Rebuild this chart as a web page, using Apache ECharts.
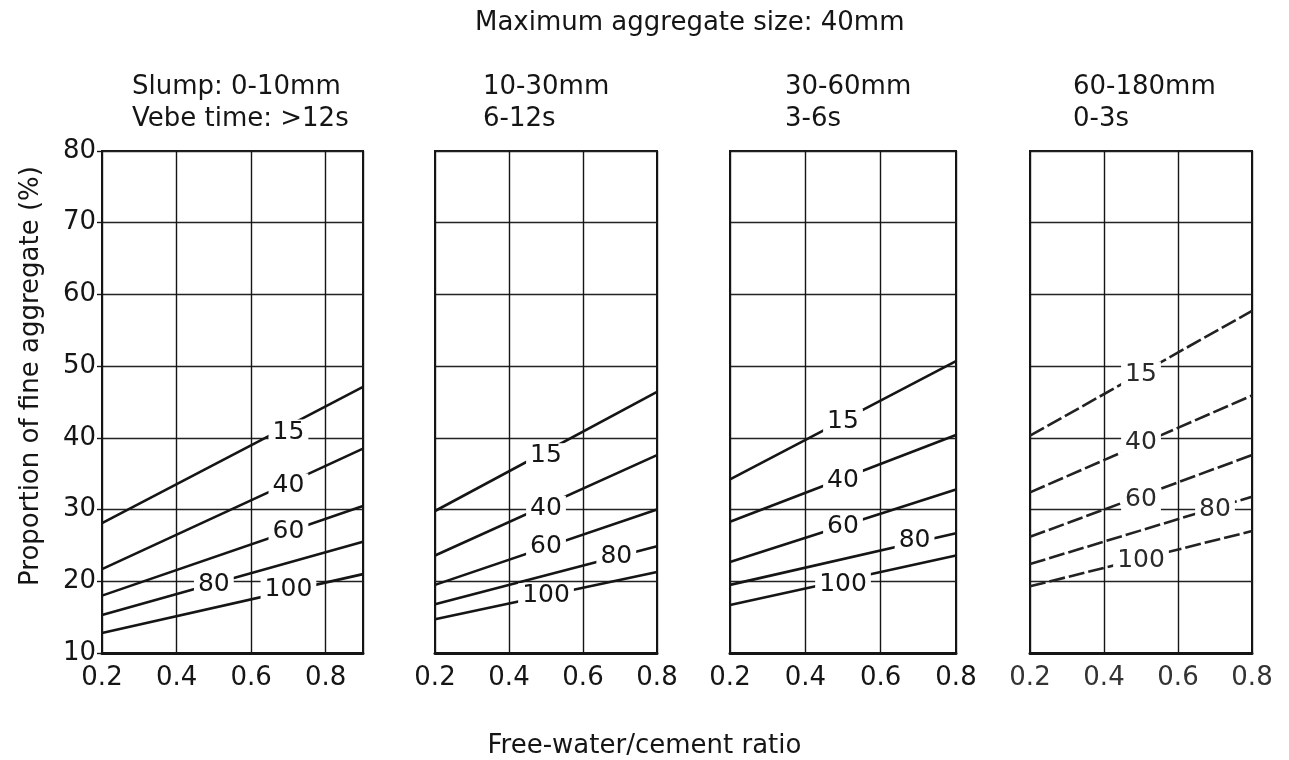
<!DOCTYPE html>
<html><head><meta charset="utf-8">
<script src="https://cdn.jsdelivr.net/npm/echarts@6/dist/echarts.min.js"></script>
<style>html,body{margin:0;padding:0;background:#fff}#c{width:1289px;height:760px}</style>
</head><body><div id="c"></div>
<script>
// ---- data ----
const mainTitle = 'Maximum aggregate size: 40mm';
const xAxisTitle = 'Free-water/cement ratio';
const yAxisTitle = 'Proportion of fine aggregate (%)';
const panelSlump = ['Slump: 0-10mm', '10-30mm', '30-60mm', '60-180mm'];
const panelVebe = ['Vebe time: >12s', '6-12s', '3-6s', '0-3s'];
const curveLabels = ['15', '40', '60', '80', '100'];
const xMin = [0.2, 0.2, 0.2, 0.2];
const xMax = [0.9, 0.8, 0.8, 0.8];
const yMin = 10, yMax = 80, yStep = 10, xStep = 0.2;

// proportion of fine aggregate at w/c = xMin (start) and w/c = xMax (end), per curve 15,40,60,80,100
const p1Start = [28.1, 21.7, 18.0, 15.3, 12.8];
const p1End   = [47.1, 38.5, 30.5, 25.5, 21.0];
const p2Start = [29.8, 23.6, 19.5, 16.8, 14.7];
const p2End   = [46.4, 37.6, 30.0, 24.9, 21.3];
const p3Start = [34.2, 28.3, 22.7, 19.5, 16.7];
const p3End   = [50.7, 40.4, 32.8, 26.7, 23.6];
const p4Start = [40.3, 32.4, 26.2, 22.4, 19.3];
const p4End   = [57.7, 45.9, 37.6, 31.8, 27.0];

// curve label positions (w/c, %)
const p1LabX = [0.70, 0.70, 0.70, 0.50, 0.70];
const p1LabY = [40.8, 33.3, 26.9, 19.5, 18.8];
const p2LabX = [0.50, 0.50, 0.50, 0.69, 0.50];
const p2LabY = [37.5, 30.2, 24.8, 23.4, 18.0];
const p3LabX = [0.50, 0.50, 0.50, 0.69, 0.50];
const p3LabY = [42.3, 34.0, 27.6, 25.7, 19.6];
const p4LabX = [0.50, 0.50, 0.50, 0.70, 0.50];
const p4LabY = [48.9, 39.3, 31.4, 30.0, 22.9];

const starts = [p1Start, p2Start, p3Start, p4Start];
const ends = [p1End, p2End, p3End, p4End];
const labXs = [p1LabX, p2LabX, p3LabX, p4LabX];
const labYs = [p1LabY, p2LabY, p3LabY, p4LabY];

// ---- layout ----
const FONT = 'DejaVu Sans';
const INK = '#151515';
const gridPos = [
  {left: 102, width: 261},
  {left: 435, width: 222},
  {left: 730, width: 226},
  {left: 1030, width: 222}
];
const subLeft = [132, 483, 785, 1073];

const grids = [], xAxes = [], yAxes = [], series = [], titles = [];

titles.push({text: mainTitle, left: 475, top: 10, padding: 0,
  textStyle: {fontFamily: FONT, fontSize: 26, fontWeight: 'normal', color: INK}});
titles.push({text: xAxisTitle, left: 'center', top: 733, padding: 0,
  textStyle: {fontFamily: FONT, fontSize: 26, fontWeight: 'normal', color: INK}});

for (let i = 0; i < 4; i++) {
  grids.push({left: gridPos[i].left, width: gridPos[i].width, top: 151, height: 502,
    show: true, borderColor: INK, borderWidth: 2, backgroundColor: '#fff'});
  titles.push({text: panelSlump[i] + '\n' + panelVebe[i], left: subLeft[i], top: 71, padding: 0,
    textStyle: {fontFamily: FONT, fontSize: 26, fontWeight: 'normal', color: INK, lineHeight: 32}});
  xAxes.push({type: 'value', gridIndex: i, min: xMin[i], max: xMax[i], interval: xStep,
    axisLine: {show: true, lineStyle: {color: INK, width: 3}},
    axisTick: {show: false},
    axisLabel: {show: true, fontFamily: FONT, fontSize: 26, color: i === 3 ? '#333' : INK, margin: 12,
      showMaxLabel: i !== 0, formatter: v => v.toFixed(1)},
    splitLine: {show: true, lineStyle: {color: INK, width: 1.4}}
  });
  yAxes.push({type: 'value', gridIndex: i, min: yMin, max: yMax, interval: yStep,
    axisLine: {show: false},
    axisTick: {show: i === 0, length: 5, lineStyle: {color: INK, width: 1.4}},
    axisLabel: {show: i === 0, fontFamily: FONT, fontSize: 26, color: INK, margin: 6},
    splitLine: {show: true, lineStyle: {color: '#222', width: 1.4, type: 'solid'}}
  });
  for (let k = 0; k < curveLabels.length; k++) {
    series.push({type: 'line', xAxisIndex: i, yAxisIndex: i, name: curveLabels[k],
      data: [[xMin[i], starts[i][k]], [xMax[i], ends[i][k]]],
      showSymbol: false, symbol: 'none', silent: true, z: 3,
      lineStyle: {color: i === 3 ? '#222' : INK, width: 2.6, type: i === 3 ? [16, 4] : 'solid'}
    });
  }
  series.push({type: 'scatter', xAxisIndex: i, yAxisIndex: i, symbolSize: 0, z: 10, silent: true,
    itemStyle: {color: INK, opacity: 1},
    data: curveLabels.map((t, k) => ({name: t, value: [labXs[i][k], labYs[i][k]]})),
    label: {show: true, position: 'inside', formatter: '{b}', fontFamily: FONT, fontSize: 25,
      color: i === 3 ? '#2a2a2a' : INK, opacity: 1, textBorderWidth: 0,
      backgroundColor: '#fff', padding: [0, 4]}
  });
}

const chart = echarts.init(document.getElementById('c'), null, {renderer: 'canvas'});
chart.setOption({
  backgroundColor: '#fff',
  animation: false,
  title: titles,
  grid: grids,
  xAxis: xAxes,
  yAxis: yAxes,
  series: series,
  graphic: [{
    type: 'text', x: 31, y: 376, rotation: Math.PI / 2, silent: true,
    style: {text: yAxisTitle, fontFamily: FONT, fontSize: 26, fill: INK,
      align: 'center', verticalAlign: 'middle'}
  }]
});
</script></body></html>
